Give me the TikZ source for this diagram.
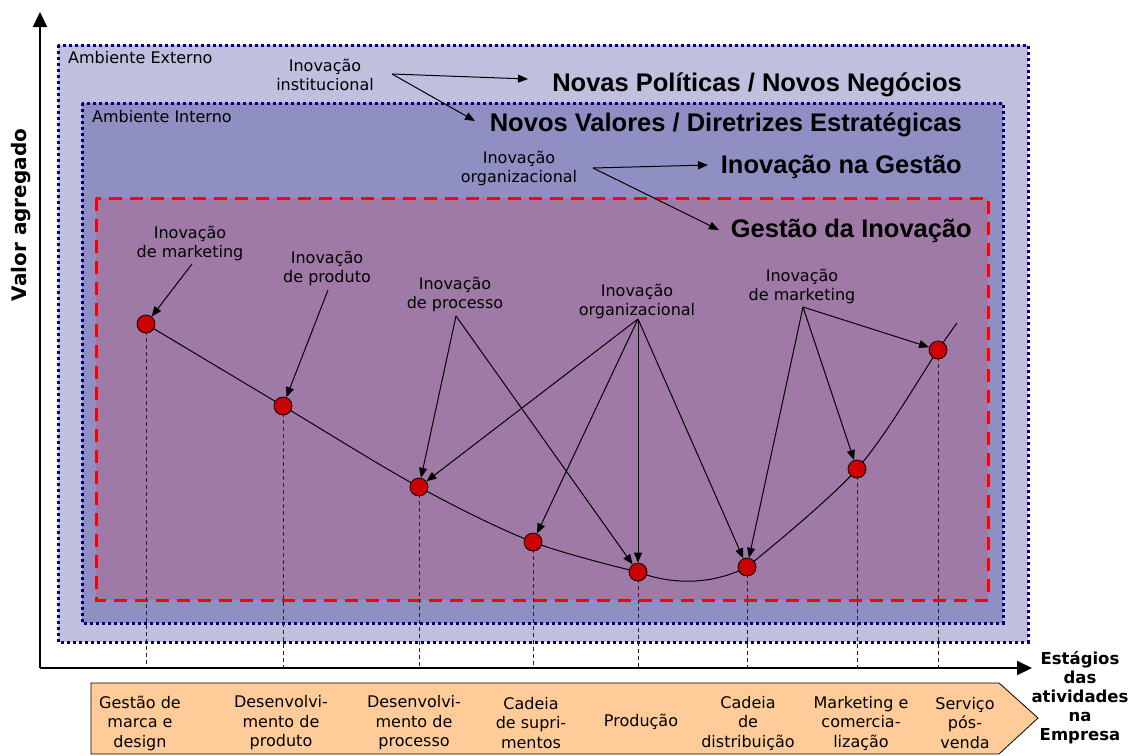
\documentclass[tikz,border=0pt]{standalone}
\usepackage{fontspec}
\setmainfont{DejaVu Sans}
\newfontfamily\headfont{Liberation Sans}
\usetikzlibrary{arrows.meta}

\definecolor{extfill}{RGB}{192,192,222}
\definecolor{intfill}{RGB}{143,143,196}
\definecolor{gestfill}{RGB}{160,122,166}
\definecolor{navyline}{RGB}{0,0,128}
\definecolor{dotred}{RGB}{204,0,0}
\definecolor{barfill}{RGB}{255,204,153}

\begin{document}
\begin{tikzpicture}[x=1pt,y=-1pt,
  lbl/.style={font=\fontsize{16}{19}\selectfont, align=center, inner sep=0pt},
  boxlbl/.style={font=\fontsize{16}{19}\selectfont, inner sep=0pt},
  head/.style={font=\headfont\bfseries\fontsize{25.5}{28}\selectfont, inner sep=0pt},
  stage/.style={font=\fontsize{16}{19.5}\selectfont, align=center, inner sep=0pt},
  envbox/.style={draw=navyline, line width=3pt, dash pattern=on 3pt off 3pt},
  gestbox/.style={draw=red, line width=3pt, dash pattern=on 13pt off 8pt},
  pt/.style={circle, draw=black, line width=0.8pt, fill=dotred, minimum size=18pt, inner sep=0pt},
  arr/.style={draw=black, line width=1pt, -{Triangle[length=10pt,width=8pt]}},
  drop/.style={draw=black!85, line width=1pt, dash pattern=on 4pt off 3pt},
  curve/.style={draw=black, line width=1pt},
  axis/.style={draw=black, line width=2pt, -{Triangle[length=15pt,width=14pt]}}
]
\useasboundingbox (0,0) rectangle (1139,755);

% environment layers
\fill[extfill] (58,45) rectangle (1028,642);
\fill[intfill] (82,103) rectangle (1003,623);
\fill[gestfill] (96,198) rectangle (988,600);
\draw[envbox] (58,45) rectangle (1028,642);
\draw[envbox] (82,103) rectangle (1003,623);
\draw[gestbox] (96,198) rectangle (988,600);

\node[boxlbl, anchor=base west] (ext) at (68,63) {Ambiente Externo};
\node[boxlbl, anchor=base west] (int) at (92,122) {Ambiente Interno};

% headings
\node[head, anchor=base east] (pol) at (962,91) {Novas Políticas / Novos Negócios};
\node[head, anchor=base east] (val) at (962,131) {Novos Valores / Diretrizes Estratégicas};
\node[head, anchor=base east] (ges) at (962,173) {Inovação na Gestão};
\node[head, anchor=base east] (gin) at (972,237) {Gestão da Inovação};

\node[lbl] (inst) at (325,75) {Inovação\\institucional};
\node[lbl] (org1) at (519,168) {Inovação\\organizacional};
\coordinate (instO) at (392,74);
\coordinate (polT) at (528,79);
\coordinate (valT) at (475,121);
\coordinate (orgO) at (593,168);
\coordinate (gesT) at (708,165);
\coordinate (ginT) at (719,230);
\draw[arr] (instO) -- (polT);
\draw[arr] (instO) -- (valT);
\draw[arr] (orgO) -- (gesT);
\draw[arr] (orgO) -- (ginT);

% value curve, in three pieces
\draw[curve] plot[smooth, tension=0.55] coordinates
  {(146,324) (283,406) (419,487) (533,542) (638,572)};
\draw[curve] (638,572) .. controls (672,585) and (712,585) .. (747,567);
\draw[curve] plot[smooth, tension=0.55] coordinates
  {(747,567) (857,469) (938,350) (957,323)};

% drop lines to the stage axis
\foreach \x/\y in {146/324,283/406,419/487,533/542,638/572,747/567,857/469,938/350}
  \draw[drop] (\x,\y) -- (\x,668);

% stage points
\node[pt] (d1) at (146,324) {};
\node[pt] (d2) at (283,406) {};
\node[pt] (d3) at (419,487) {};
\node[pt] (d4) at (533,542) {};
\node[pt] (d5) at (638,572) {};
\node[pt] (d6) at (747,567) {};
\node[pt] (d7) at (857,469) {};
\node[pt] (d8) at (938,350) {};

% innovation labels
\node[lbl] (mk1) at (190,243) {Inovação\\de marketing};
\node[lbl] (prd) at (327,268) {Inovação\\de produto};
\node[lbl] (prc) at (455,294) {Inovação\\de processo};
\node[lbl] (org2) at (637,301) {Inovação\\organizacional};
\node[lbl] (mk2) at (802,286) {Inovação\\de marketing};

\coordinate (mk1O) at (192,264);
\coordinate (prdO) at (328,290);
\coordinate (prcO) at (456,316);
\coordinate (org2O) at (638,319);
\coordinate (mk2O) at (803,307);

\draw[arr] (mk1O) -- (d1);
\draw[arr] (prdO) -- (d2);
\draw[arr] (prcO) -- (d3);
\draw[arr] (prcO) -- (d5);
\draw[arr] (org2O) -- (d3);
\draw[arr] (org2O) -- (d4);
\draw[arr] (org2O) -- (d5);
\draw[arr] (org2O) -- (d6);
\draw[arr] (mk2O) -- (d6);
\draw[arr] (mk2O) -- (d7);
\draw[arr] (mk2O) -- (d8);

% axes
\coordinate (origin) at (40,668);
\coordinate (ytip) at (40,12);
\coordinate (xtip) at (1032,668);
\draw[axis] (origin) -- (ytip);
\draw[axis] (origin) -- (xtip);

\node[font=\bfseries\fontsize{20}{22}\selectfont, rotate=90, inner sep=0pt] (yl) at (21,215) {Valor agregado};
\node[font=\bfseries\fontsize{16.5}{19}\selectfont, align=center, inner sep=0pt] (xl) at (1080,698)
  {Estágios\\das\\atividades\\na\\Empresa};

% stage bar
\draw[fill=barfill, draw=black, line width=0.8pt] (91,683) -- (999,683) -- (1038,718) -- (999,754) -- (91,754) -- cycle;
\node[stage] (s1) at (140,723) {Gestão de\\marca e\\design};
\node[stage] (s2) at (281,723) {Desenvolvi-\\mento de\\produto};
\node[stage] (s3) at (414,723) {Desenvolvi-\\mento de\\processo};
\node[stage] (s4) at (531,723) {Cadeia\\de supri-\\mentos};
\node[stage] (s5) at (641,722) {Produção};
\node[stage] (s6) at (748,723) {Cadeia\\de\\distribuição};
\node[stage] (s7) at (861,723) {Marketing e\\comercia-\\lização};
\node[stage] (s8) at (965,723) {Serviço\\pós-\\venda};
\end{tikzpicture}
\end{document}
